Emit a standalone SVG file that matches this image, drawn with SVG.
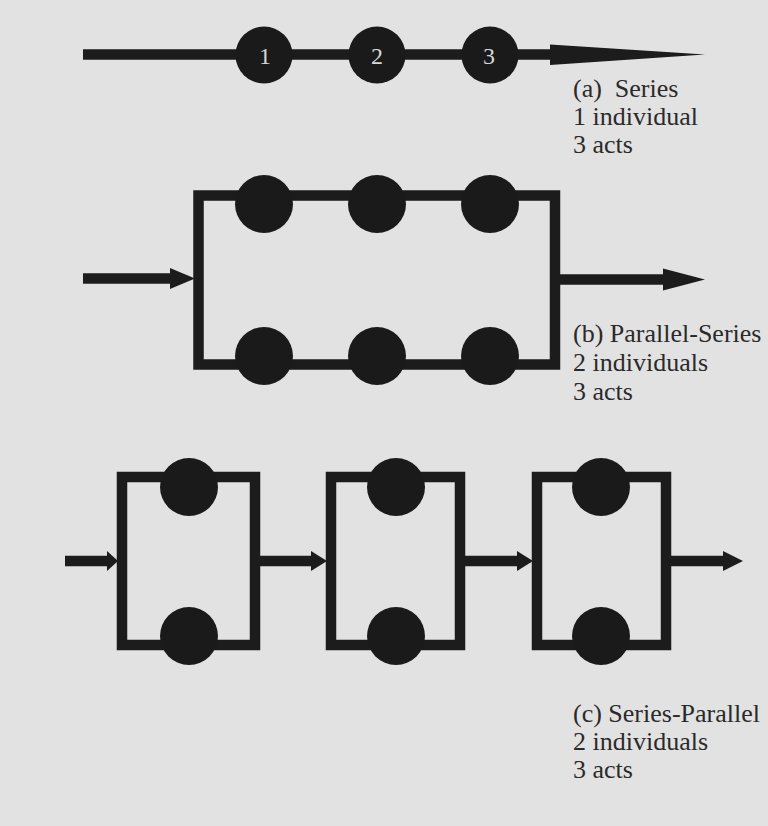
<svg xmlns="http://www.w3.org/2000/svg" width="768" height="826" viewBox="0 0 768 826">
<style>
.bg{fill:#e2e2e2}
.wire{fill:none;stroke:#1c1c1c;stroke-width:10.5;stroke-linejoin:miter;stroke-linecap:butt}
.head{fill:#1c1c1c;stroke:none}
.dot{fill:#1a1a1a}
.num{font-family:"Liberation Serif","Times New Roman",serif;font-size:24px;fill:#d6d6d6;text-anchor:middle}
.lbl{font-family:"Liberation Serif","Times New Roman",serif;font-size:26px;fill:#2a2a2a;white-space:pre}
</style>
<rect class="bg" x="0" y="0" width="768" height="826"/>

<g id="connectors">
  <line class="wire" x1="83" y1="54.5" x2="552" y2="54.5"/>
  <polygon class="head" points="550,44.5 705,54.5 550,65"/>
  <line class="wire" x1="83" y1="278.5" x2="172" y2="278.5"/>
  <polygon class="head" points="170,268 195,278.5 170,289"/>
  <rect class="wire" x="198.5" y="195.5" width="356.5" height="169"/>
  <line class="wire" x1="555" y1="279.5" x2="665" y2="279.5"/>
  <polygon class="head" points="663,268.5 705,279.5 663,290.5"/>
  <line class="wire" x1="65" y1="561" x2="109" y2="561"/>
  <polygon class="head" points="107,551 118,561 107,571"/>
  <rect class="wire" x="122" y="477" width="133" height="168"/>
  <line class="wire" x1="255" y1="561" x2="313" y2="561"/>
  <polygon class="head" points="311,551 327,561 311,571"/>
  <rect class="wire" x="331" y="477" width="129" height="168"/>
  <line class="wire" x1="460" y1="561" x2="519" y2="561"/>
  <polygon class="head" points="517,551 533,561 517,571"/>
  <rect class="wire" x="537" y="477" width="129" height="168"/>
  <line class="wire" x1="666" y1="561" x2="725" y2="561"/>
  <polygon class="head" points="723,551 743,561 723,571"/>
</g>

<g id="a-act1"><circle class="dot" cx="264" cy="55" r="28.5"/><text class="num" x="265" y="64">1</text></g>
<g id="a-act2"><circle class="dot" cx="377" cy="55" r="28.5"/><text class="num" x="377" y="64">2</text></g>
<g id="a-act3"><circle class="dot" cx="490" cy="55" r="28.5"/><text class="num" x="489" y="64">3</text></g>

<g id="b-top1"><circle class="dot" cx="264" cy="204" r="29"/></g>
<g id="b-top2"><circle class="dot" cx="377" cy="204" r="29"/></g>
<g id="b-top3"><circle class="dot" cx="490" cy="204" r="29"/></g>
<g id="b-bot1"><circle class="dot" cx="264" cy="356" r="29"/></g>
<g id="b-bot2"><circle class="dot" cx="377" cy="356" r="29"/></g>
<g id="b-bot3"><circle class="dot" cx="490" cy="356" r="29"/></g>

<g id="c-top1"><circle class="dot" cx="189" cy="487" r="29"/></g>
<g id="c-bot1"><circle class="dot" cx="189" cy="636" r="29"/></g>
<g id="c-top2"><circle class="dot" cx="396" cy="487" r="29"/></g>
<g id="c-bot2"><circle class="dot" cx="396" cy="636" r="29"/></g>
<g id="c-top3"><circle class="dot" cx="601" cy="487" r="29"/></g>
<g id="c-bot3"><circle class="dot" cx="601" cy="636" r="29"/></g>

<g id="label-a">
  <text class="lbl" x="573" y="97" xml:space="preserve">(a)  Series</text>
  <text class="lbl" x="573" y="125">1 individual</text>
  <text class="lbl" x="573" y="153">3 acts</text>
</g>
<g id="label-b">
  <text class="lbl" x="573" y="342">(b) Parallel-Series</text>
  <text class="lbl" x="573" y="371">2 individuals</text>
  <text class="lbl" x="573" y="400">3 acts</text>
</g>
<g id="label-c">
  <text class="lbl" x="573" y="722">(c) Series-Parallel</text>
  <text class="lbl" x="573" y="750">2 individuals</text>
  <text class="lbl" x="573" y="778">3 acts</text>
</g>
</svg>
